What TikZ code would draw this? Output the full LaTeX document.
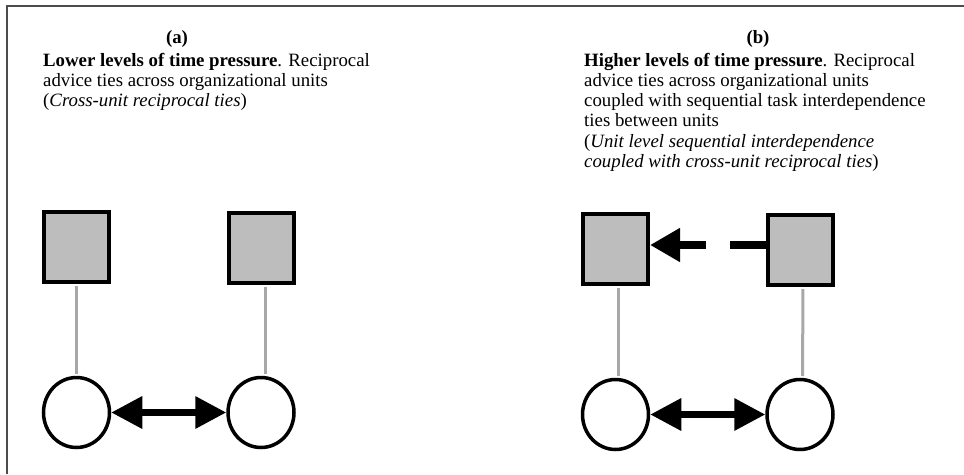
\documentclass[tikz,border=0pt]{standalone}
\usepackage{fontspec}
\setmainfont{Liberation Serif}
\usetikzlibrary{arrows.meta,shapes.geometric}
\definecolor{unitgray}{gray}{0.74}
\definecolor{tiegray}{gray}{0.66}
\definecolor{framegray}{gray}{0.3}
\begin{document}
\begin{tikzpicture}[x=1pt,y=-1pt]
\tikzstyle{unit}=[draw,line width=4pt,fill=unitgray,minimum width=65pt,minimum height=70pt,inner sep=0pt]
\tikzstyle{member}=[draw,ellipse,line width=3.5pt,fill=white,minimum width=66pt,minimum height=70pt,inner sep=0pt]
\tikzstyle{tie}=[draw=tiegray,line width=3pt,shorten <=2pt,shorten >=1.75pt]
\tikzstyle{advice}=[line width=6.5pt,{Triangle[length=31pt,width=31pt]}-{Triangle[length=31pt,width=31pt]}]
\tikzstyle{task}=[line width=7.5pt,-{Triangle[length=30pt,width=32pt]},dash pattern=on 36pt off 24pt on 100pt off 0pt]
\tikzstyle{caption}=[anchor=base west,align=left,inner sep=0pt,font=\fontsize{18.8}{20.3}\selectfont]
\useasboundingbox (0,0) rectangle (964,474);
\draw[framegray,line width=1.5pt] (7,474) -- (7,6) -- (964,6);
% (a) lower time pressure
\node[font=\fontsize{18.8}{20.3}\selectfont\bfseries,anchor=base] (la) at (177,43) {(a)};
\node[caption] (ta) at (43,106.6) {\textbf{Lower levels of time pressure}. Reciprocal\\advice ties across organizational units\\(\textit{Cross-unit reciprocal ties})};
\node[unit] (ua0) at (76.5,247) {};
\node[unit] (ua1) at (261,248) {};
\node[member] (pa0) at (76.5,412.5) {};
\node[member] (pa1) at (261,412.5) {};
\draw[tie] (ua0) -- (pa0);
\draw[tie] ([xshift=4pt]ua1.south) -- ([xshift=4pt]pa1.north);
\draw[advice] (pa0) -- (pa1);
% (b) higher time pressure
\node[font=\fontsize{18.8}{20.3}\selectfont\bfseries,anchor=base] (lb) at (758,43) {(b)};
\node[caption] (tb) at (584,167.5) {\textbf{Higher levels of time pressure}. Reciprocal\\advice ties across organizational units\\coupled with sequential task interdependence\\ties between units\\(\textit{Unit level sequential interdependence}\\\textit{coupled with cross-unit reciprocal ties})};
\node[unit] (ub0) at (615.5,249) {};
\node[unit] (ub1) at (800.5,250) {};
\node[member] (pb0) at (615.5,414.5) {};
\node[member] (pb1) at (800,414.5) {};
\draw[tie] ([xshift=2.5pt]ub0.south) -- ([xshift=2.5pt]pb0.north);
\draw[tie] ([xshift=2.5pt]ub1.south) -- ([xshift=2.5pt]pb1.north);
\draw[task] (ub1.west |- 0,245) -- (ub0.east |- 0,245);
\draw[advice] (pb0) -- (pb1);
\end{tikzpicture}
\end{document}
